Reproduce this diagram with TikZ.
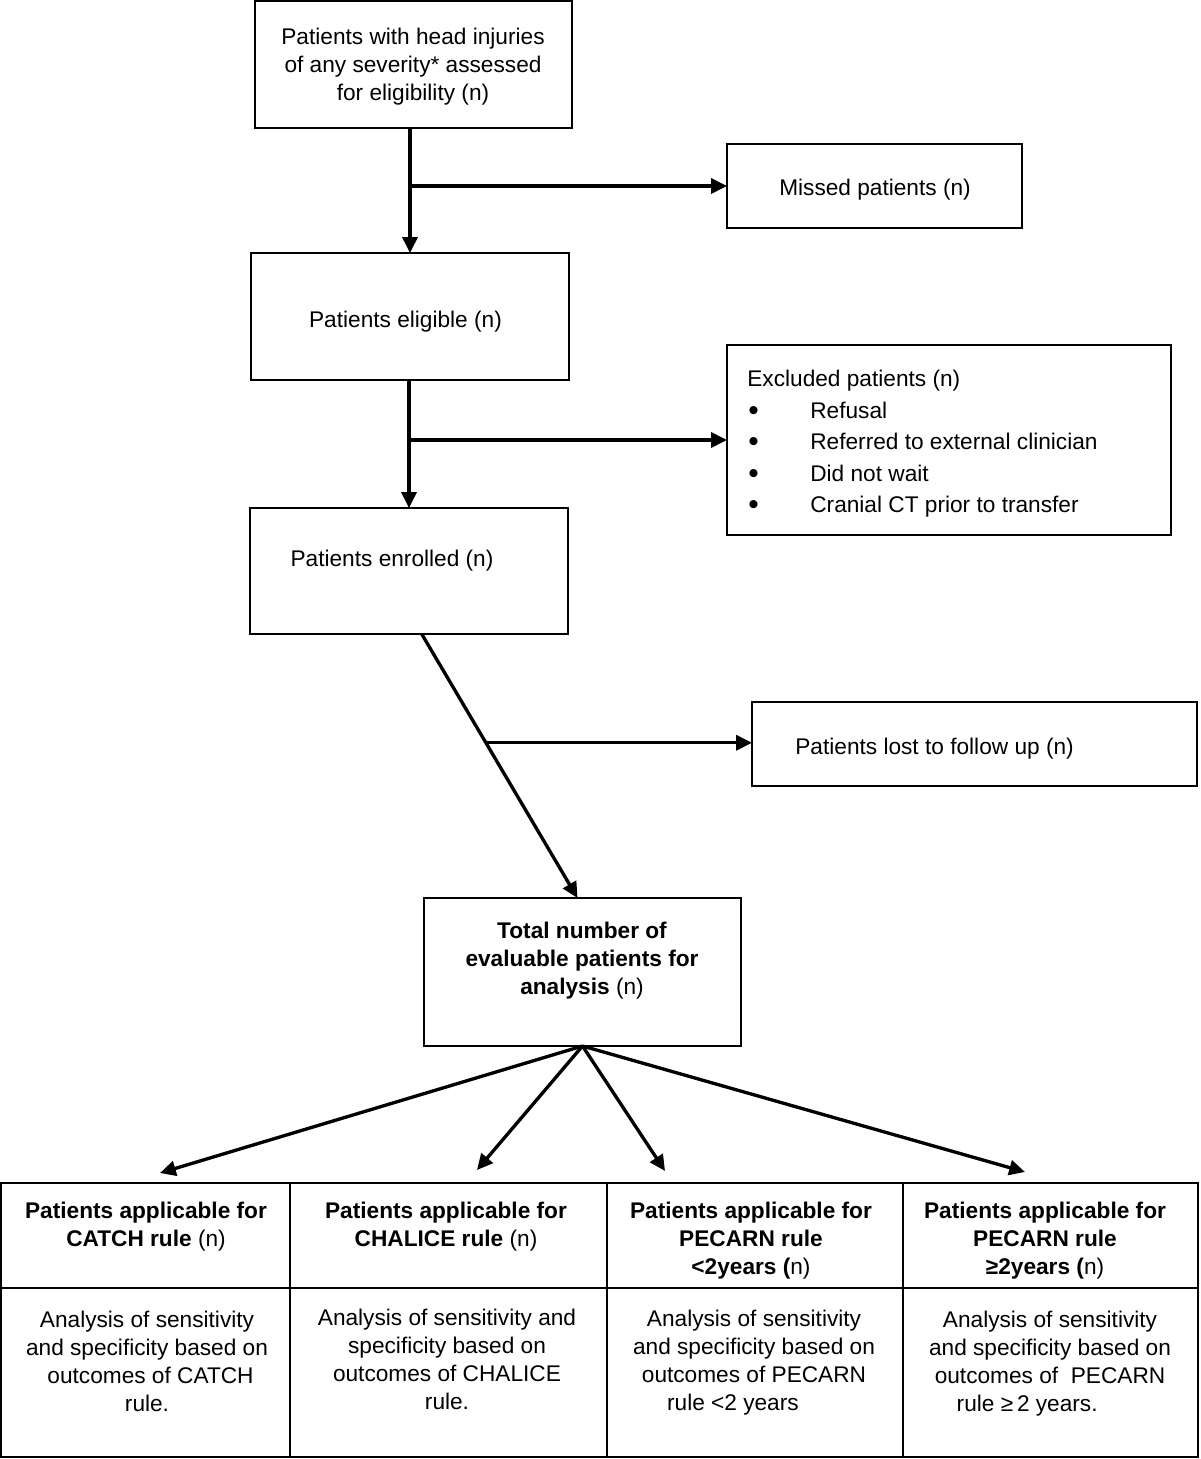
\documentclass[tikz,border=0pt]{standalone}
\usepackage{fontspec}
\setmainfont{Liberation Sans}
\usetikzlibrary{arrows.meta,calc}
\newcommand{\bigbul}{\makebox[1.26cm][l]{\hspace*{0.02cm}\raisebox{-1.2pt}{\fontsize{17pt}{17pt}\selectfont\textbullet}}}
\begin{document}
\begin{tikzpicture}[x=0.02cm,y=-0.02cm,
  box/.style={draw, line width=1.1pt, inner sep=0pt, outer sep=0pt},
  txt/.style={inner sep=0pt, align=center, font=\fontsize{12.9pt}{15.9pt}\selectfont},
  conn/.style={line width=1.9pt},
  arr/.style={conn, -{Triangle[length=9pt,width=8.5pt]}}]
\useasboundingbox (0,0) rectangle (1200,1459);

% flow boxes
\node[box, minimum width=317*0.02cm, minimum height=127*0.02cm] (b1) at (413.5,64.5) {};
\node[txt] (b1t) at (413,67) {Patients with head injuries\\of any severity* assessed\\for eligibility (n)};
\node[box, minimum width=295*0.02cm, minimum height=84*0.02cm] (mis) at (874.5,186) {};
\node[txt] (mist) at (875,190) {Missed patients (n)};
\node[box, minimum width=318*0.02cm, minimum height=127*0.02cm] (b2) at (410,316.5) {};
\node[txt] (b2t) at (405.5,321.5) {Patients eligible (n)};
\node[box, minimum width=444*0.02cm, minimum height=190*0.02cm] (exc) at (949,440) {};
\node[txt, anchor=west, align=left, font=\fontsize{12.9pt}{17.9pt}\selectfont] (exct) at (747,444)
  {Excluded patients (n)\\
   \bigbul Refusal\\
   \bigbul Referred to external clinician\\
   \bigbul Did not wait\\
   \bigbul Cranial CT prior to transfer};
\node[box, minimum width=318*0.02cm, minimum height=126*0.02cm] (b3) at (409,571) {};
\node[txt] (b3t) at (392,561) {Patients enrolled (n)};
\node[box, minimum width=445*0.02cm, minimum height=84*0.02cm] (lost) at (974.5,744) {};
\node[txt, anchor=west] (lostt) at (795,749) {Patients lost to follow up (n)};
\node[box, minimum width=317*0.02cm, minimum height=148*0.02cm] (tot) at (582.5,972) {};
\node[txt] (tott) at (582,961) {\textbf{Total number of}\\\textbf{evaluable patients for}\\\textbf{analysis} (n)};

% table
\node[box, anchor=north west, minimum width=289*0.02cm, minimum height=105*0.02cm] (h1) at (1,1183) {};
\node[box, anchor=north west, minimum width=317*0.02cm, minimum height=105*0.02cm] (h2) at (290,1183) {};
\node[box, anchor=north west, minimum width=296*0.02cm, minimum height=105*0.02cm] (h3) at (607,1183) {};
\node[box, anchor=north west, minimum width=295*0.02cm, minimum height=105*0.02cm] (h4) at (903,1183) {};
\node[box, anchor=north west, minimum width=289*0.02cm, minimum height=169*0.02cm] (c1) at (1,1288) {};
\node[box, anchor=north west, minimum width=317*0.02cm, minimum height=169*0.02cm] (c2) at (290,1288) {};
\node[box, anchor=north west, minimum width=296*0.02cm, minimum height=169*0.02cm] (c3) at (607,1288) {};
\node[box, anchor=north west, minimum width=295*0.02cm, minimum height=169*0.02cm] (c4) at (903,1288) {};

\node[txt] (h1t) at (146,1227) {\textbf{Patients applicable for}\\\textbf{CATCH rule} (n)};
\node[txt] (h2t) at (446,1227) {\textbf{Patients applicable for}\\\textbf{CHALICE rule} (n)};
\node[txt] (h3t) at (751,1241) {\textbf{Patients applicable for}\\\textbf{PECARN rule}\\\textbf{{<}2years (}n)};
\node[txt] (h4t) at (1045,1241) {\textbf{Patients applicable for}\\\textbf{PECARN rule}\\\textbf{≥2years (}n)};

\node[txt] (c1t) at (147,1361) {Analysis of sensitivity\\and specificity based on\\\hspace*{4pt}outcomes of CATCH\\rule.};
\node[txt] (c2t) at (447,1359) {Analysis of sensitivity and\\specificity based on\\outcomes of CHALICE\\rule.};
\node[txt] (c3t) at (754,1363) {Analysis of sensitivity\\and specificity based on\\outcomes of PECARN\\rule {<}2 years\hspace*{24pt}};
\node[txt] (c4t) at (1050,1364) {Analysis of sensitivity\\and specificity based on\\outcomes of \ PECARN\\rule ≥\,2 years.\hspace*{26pt}};

% connectors
\draw[arr] (b1.south -| b2.north) -- (b2.north);
\coordinate (j1) at (b2.north |- mis.west);
\draw[arr] (j1) -- (mis.west);

\draw[arr] (b2.south -| b3.north) -- (b3.north);
\coordinate (j2) at (b3.north |- exc.west);
\draw[arr] (j2) -- (exc.west);

\coordinate (d1) at ($(b3.south west)!0.54!(b3.south east)$);
\coordinate (d2) at ($(tot.north)+(-5,0)$);
\draw[arr] (d1) -- (d2);
\coordinate (j3) at ($(d1)!0.412!(d2)$);
\draw[arr] (j3) -- (j3 -| lost.west);

\coordinate (a1) at (160,1173);
\coordinate (a2) at (477,1170);
\coordinate (a3) at (665,1171);
\coordinate (a4) at (1025,1172);
\draw[arr] (tot.south) -- (a1);
\draw[arr] (tot.south) -- (a2);
\draw[arr] (tot.south) -- (a3);
\draw[arr] (tot.south) -- (a4);
\end{tikzpicture}
\end{document}
